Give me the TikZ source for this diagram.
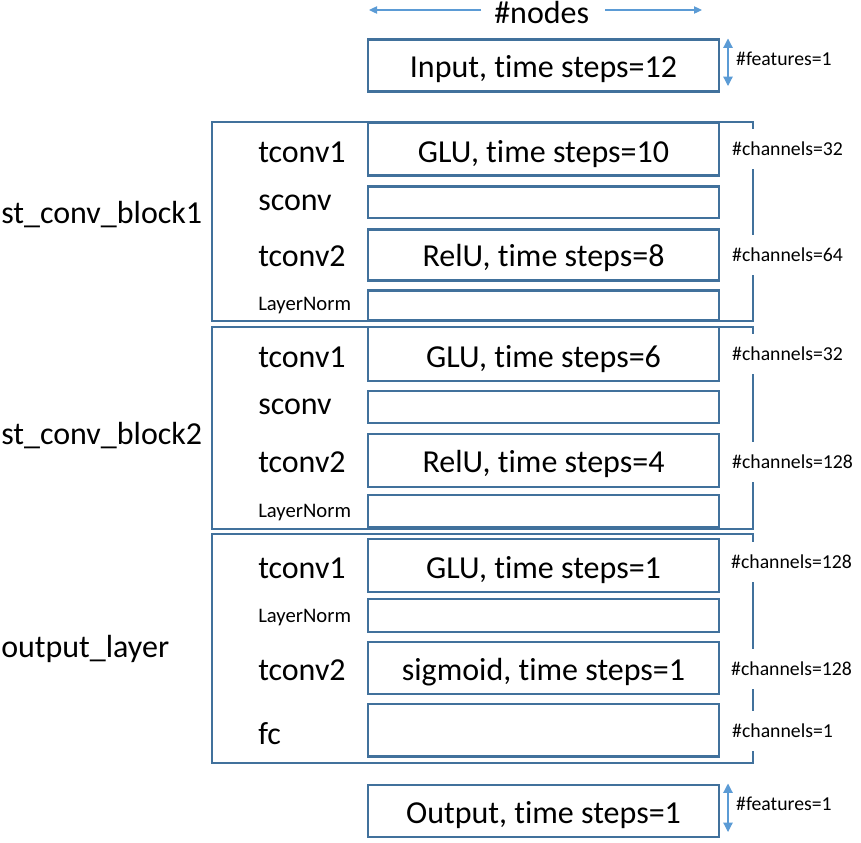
\documentclass[tikz,border=0pt]{standalone}
\usepackage{fontspec}
\setmainfont{Carlito}[Ligatures=NoCommon]
\usetikzlibrary{arrows.meta,fit}
\definecolor{boxline}{HTML}{41719C}
\definecolor{dimline}{HTML}{5B9BD5}
\begin{document}
\begin{tikzpicture}[x=0.75pt,y=-0.75pt,
  frame/.style={draw=boxline,line width=1.5pt,inner sep=0pt},
  cell/.style={draw=boxline,line width=1.6pt,inner sep=0pt},
  big/.style={font=\fontsize{24}{28}\selectfont,inner sep=0pt,anchor=base},
  tag/.style={font=\fontsize{24}{28}\selectfont,inner sep=0pt,anchor=base west},
  smalltag/.style={font=\fontsize{15.5}{18}\selectfont,inner sep=0pt,anchor=base west},
  note/.style={font=\fontsize{14.8}{17}\selectfont,fill=white,inner xsep=2pt,inner ysep=0pt,minimum height=30pt,anchor=base west},
  dim/.style={draw=dimline,line width=0.9pt,-{Triangle[width=5.5pt,length=6pt]}},
  dimboth/.style={draw=dimline,line width=0.9pt,{Triangle[width=7pt,length=7pt]}-{Triangle[width=7pt,length=7pt]}},
]
\useasboundingbox (0,0) rectangle (861,843);

% header: width dimension
\node[big] (hdr) at (541.7,23) {\#nodes};
\coordinate (nl) at (369,0);
\coordinate (nr) at (702,0);
\coordinate (hl) at (481,10);
\coordinate (hr) at (605,10);
\draw[dim] (hl) -- (hl -| nl);
\draw[dim] (hr) -- (hr -| nr);

% input
\node[cell,fit={(368,39.5)(719,91.5)}] (inp) {};
\node[big] (inptxt) at (543.5,77) {Input, time steps=12};
\coordinate (fin-t) at (728,38.5);
\coordinate (fin-b) at (728,86);
\draw[dimboth] (fin-t) -- (fin-b);
\node[note] (finl) at (733.3,65) {\#features=1};

% block frames
\node[frame,fit={(212,121.5)(752.5,320.5)}] (blk1) {};
\node[frame,fit={(212,326.5)(752.5,528.5)}] (blk2) {};
\node[frame,fit={(212,534)(752.5,763)}] (blk3) {};

% st_conv_block1
\node[cell,fit={(368,122.5)(719,175.5)}] (b1t1) {};
\node[cell,fit={(368,186.5)(719,218)}] (b1s) {};
\node[cell,fit={(368,229.5)(719,280.5)}] (b1t2) {};
\node[cell,fit={(368,290.5)(719,320)}] (b1ln) {};
\node[tag] (b1name) at (1,223.3) {st\_conv\_block1};
\node[tag] (b1t1l) at (258,162) {tconv1};
\node[tag] (b1sl) at (258,210) {sconv};
\node[tag] (b1t2l) at (258,266) {tconv2};
\node[smalltag] (b1lnl) at (258,310) {LayerNorm};
\node[big] (b1t1x) at (543.5,162) {GLU, time steps=10};
\node[big] (b1t2x) at (543.5,266) {RelU, time steps=8};
\node[note] (b1c1) at (729.3,155.5) {\#channels=32};
\node[note] (b1c2) at (729.3,261.5) {\#channels=64};

% st_conv_block2
\node[cell,fit={(368,327)(719,381)}] (b2t1) {};
\node[cell,fit={(368,391)(719,423)}] (b2s) {};
\node[cell,fit={(368,434)(719,487)}] (b2t2) {};
\node[cell,fit={(368,495)(719,527)}] (b2ln) {};
\node[tag] (b2name) at (1,444) {st\_conv\_block2};
\node[tag] (b2t1l) at (258,367) {tconv1};
\node[tag] (b2sl) at (258,414) {sconv};
\node[tag] (b2t2l) at (258,472) {tconv2};
\node[smalltag] (b2lnl) at (258,517) {LayerNorm};
\node[big] (b2t1x) at (543.5,367) {GLU, time steps=6};
\node[big] (b2t2x) at (543.5,472) {RelU, time steps=4};
\node[note] (b2c1) at (729.3,360.5) {\#channels=32};
\node[note] (b2c2) at (729.3,468.5) {\#channels=128};

% output_layer
\node[cell,fit={(368,539)(719,592)}] (b3t1) {};
\node[cell,fit={(368,599)(719,632)}] (b3ln) {};
\node[cell,fit={(368,642)(719,694)}] (b3t2) {};
\node[cell,fit={(368,704)(719,756.5)}] (b3fc) {};
\node[tag] (b3name) at (1,657) {output\_layer};
\node[tag] (b3t1l) at (258,578) {tconv1};
\node[smalltag] (b3lnl) at (258,622) {LayerNorm};
\node[tag] (b3t2l) at (258,680) {tconv2};
\node[tag] (b3fcl) at (258,744) {fc};
\node[big] (b3t1x) at (543.5,578) {GLU, time steps=1};
\node[big] (b3t2x) at (543.5,680) {sigmoid, time steps=1};
\node[note] (b3c1) at (728.3,568.5) {\#channels=128};
\node[note] (b3c2) at (728.3,675.5) {\#channels=128};
\node[note] (b3c3) at (729.3,737.5) {\#channels=1};

% output
\node[cell,fit={(368,785)(719,837)}] (outp) {};
\node[big] (outtxt) at (543.5,823) {Output, time steps=1};
\coordinate (fout-t) at (728,783.5);
\coordinate (fout-b) at (728,832);
\draw[dimboth] (fout-t) -- (fout-b);
\node[note] (foutl) at (733.3,810) {\#features=1};
\end{tikzpicture}
\end{document}
